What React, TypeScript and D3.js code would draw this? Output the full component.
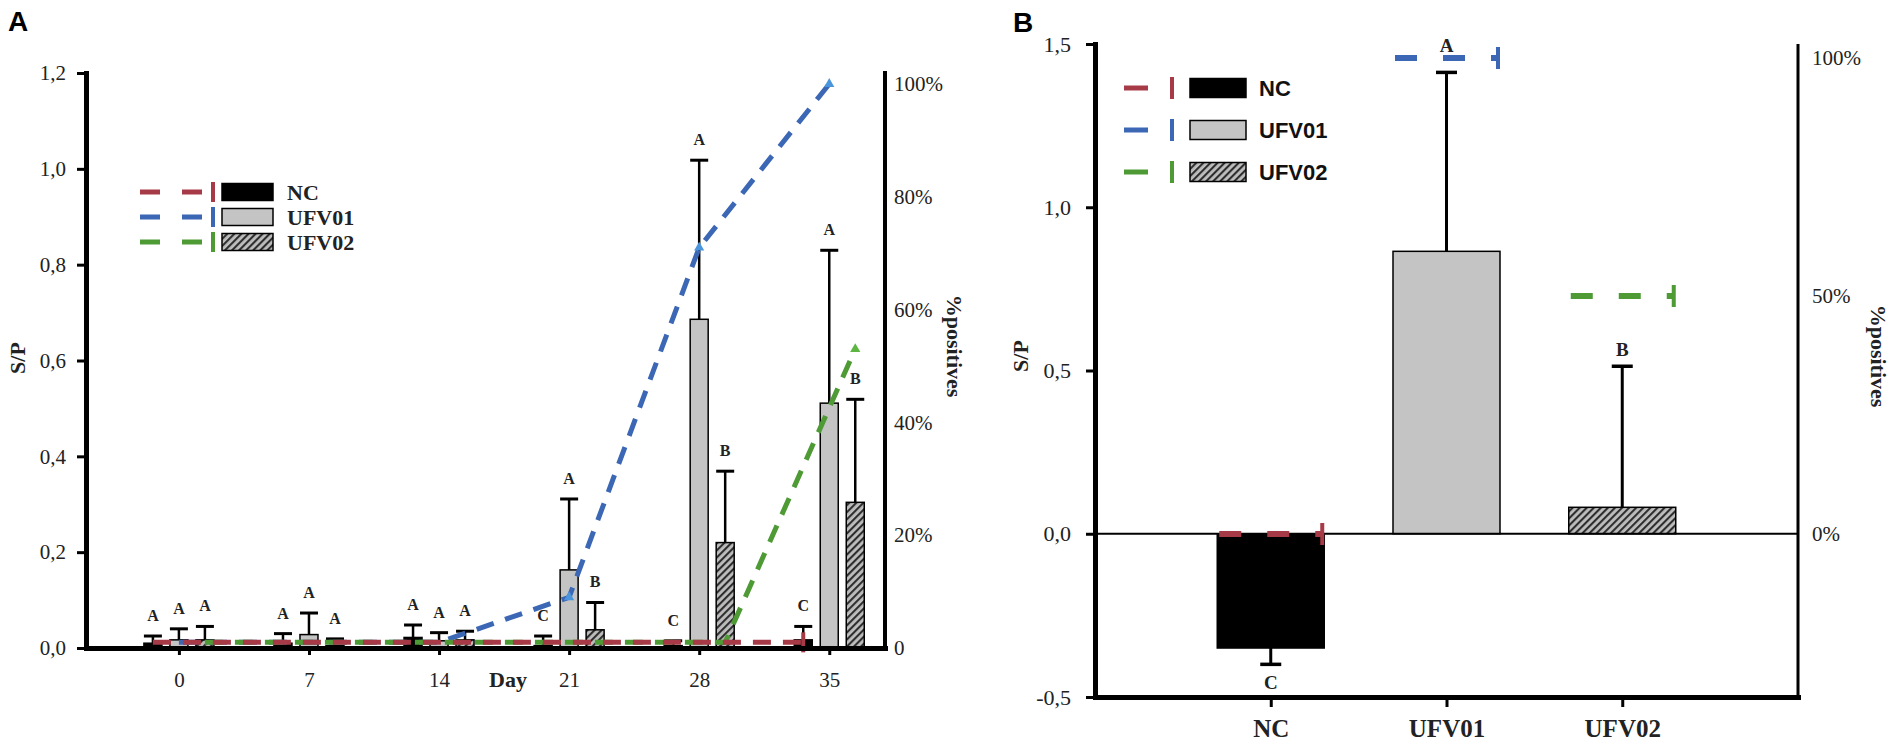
import { useEffect, useRef } from "react";
import * as d3 from "d3";

const days = [0, 7, 14, 21, 28, 35];
const groups = ["NC", "UFV01", "UFV02"];

// panel A: S/P means and SD per day
const ncMean = [0.01, 0.01, 0.022, 0.005, 0.005, 0.017];
const ncSd = [0.015, 0.02, 0.026, 0.02, 0.01, 0.028];
const ufv01Mean = [0.017, 0.028, 0.015, 0.163, 0.686, 0.511];
const ufv01Sd = [0.023, 0.045, 0.017, 0.148, 0.332, 0.319];
const ufv02Mean = [0.017, 0.005, 0.017, 0.038, 0.22, 0.304];
const ufv02Sd = [0.028, 0.014, 0.018, 0.057, 0.149, 0.215];
const ncLetters = ["A", "A", "A", "C", "C", "C"];
const ufv01Letters = ["A", "A", "A", "A", "A", "A"];
const ufv02Letters = ["A", "A", "A", "B", "B", "B"];

// panel A: % positives per day
const ncPos = [1, 1, 1, 1, 1, 1];
const ufv01Pos = [1, 1, 1, 9, 71, 100];
const ufv02Pos = [1, 1, 1, 1, 1, 53];

// panel B: day 35 summary
const bMean = [-0.35, 0.865, 0.081];
const bSd = [0.05, 0.548, 0.432];
const bLetters = ["C", "A", "B"];
const bPos = [0, 100, 50];

const aTicks = [0, 0.2, 0.4, 0.6, 0.8, 1.0, 1.2];
const aPctTicks = [0, 20, 40, 60, 80, 100];
const bTicks = [-0.5, 0, 0.5, 1.0, 1.5];
const bPctTicks = [0, 50, 100];

const SERIF = "'Liberation Serif', 'Times New Roman', serif";
const SANS = "'Liberation Sans', Arial, sans-serif";
const LINE_COLORS = ["#a63a47", "#3b67b5", "#4e9a35"];
const FILLS = ["#000000", "#c4c4c4", "url(#hatch)"];

const fmtComma = (v: number) => v.toFixed(1).replace(".", ",");

export default function App() {
  const svgRef = useRef<SVGSVGElement>(null);

  useEffect(() => {
    if (!svgRef.current) return;
    const svg = d3.select(svgRef.current);
    svg.selectAll("*").remove();

    const defs = svg.append("defs");
    const pat = defs
      .append("pattern")
      .attr("id", "hatch")
      .attr("patternUnits", "userSpaceOnUse")
      .attr("width", 5)
      .attr("height", 5)
      .attr("patternTransform", "rotate(45)");
    pat.append("rect").attr("width", 5).attr("height", 5).attr("fill", "#bdbdbd");
    pat
      .append("line")
      .attr("x1", 1)
      .attr("y1", 0)
      .attr("x2", 1)
      .attr("y2", 5)
      .attr("stroke", "#2e2e2e")
      .attr("stroke-width", 2.2);

    const styleAxis = (g: any, size: number, bold = false) => {
      g.attr("font-family", SERIF).attr("font-size", size);
      g.selectAll("text").attr("fill", "#222").attr("font-weight", bold ? "bold" : "normal");
      g.selectAll(".tick line").attr("stroke", "#000").attr("stroke-width", 3);
      g.select(".domain").attr("stroke", "#000").attr("stroke-linecap", "square");
    };

    // ---------------- Panel A ----------------
    const xA = d3.scaleLinear().domain([-5, 38]).range([86, 885]);
    const yA = d3.scaleLinear().domain([0, 1.2]).range([648, 73]);
    const pA = d3.scaleLinear().domain([0, 100]).range([648, 84]);
    const offA = 26;
    const bwA = 18;
    const gA = svg.append("g");

    const aMeans = [ncMean, ufv01Mean, ufv02Mean];
    const aSds = [ncSd, ufv01Sd, ufv02Sd];
    const aLetters = [ncLetters, ufv01Letters, ufv02Letters];
    const aPos = [ncPos, ufv01Pos, ufv02Pos];

    groups.forEach((_, gi) => {
      days.forEach((d, di) => {
        const cx = xA(d) + (gi - 1) * offA;
        const m = aMeans[gi][di];
        const top = m + aSds[gi][di];
        gA.append("rect")
          .attr("x", cx - bwA / 2)
          .attr("y", yA(m))
          .attr("width", bwA)
          .attr("height", yA(0) - yA(m))
          .attr("fill", FILLS[gi])
          .attr("stroke", "#000")
          .attr("stroke-width", 1.5);
        gA.append("line")
          .attr("x1", cx)
          .attr("x2", cx)
          .attr("y1", yA(m))
          .attr("y2", yA(top))
          .attr("stroke", "#000")
          .attr("stroke-width", 2.5);
        gA.append("line")
          .attr("x1", cx - bwA / 2)
          .attr("x2", cx + bwA / 2)
          .attr("y1", yA(top))
          .attr("y2", yA(top))
          .attr("stroke", "#000")
          .attr("stroke-width", 3);
        gA.append("text")
          .attr("x", cx)
          .attr("y", yA(top) - 15)
          .attr("text-anchor", "middle")
          .attr("font-family", SERIF)
          .attr("font-weight", "bold")
          .attr("font-size", 16)
          .attr("fill", "#222")
          .text(aLetters[gi][di]);
      });
    });

    // % positives lines (blue under, then green, then red)
    [1, 2, 0].forEach((gi) => {
      const pts = days.map((d, di) => [xA(d) + (gi - 1) * offA, pA(aPos[gi][di])] as [number, number]);
      gA.append("path")
        .attr("d", d3.line()(pts))
        .attr("fill", "none")
        .attr("stroke", LINE_COLORS[gi])
        .attr("stroke-width", 5)
        .attr("stroke-dasharray", "18,12");
      pts.forEach((p, di) => {
        if (aPos[gi][di] > 5) {
          gA.append("path")
            .attr("d", d3.symbol(d3.symbolTriangle, 45)())
            .attr("transform", `translate(${p[0]},${p[1]})`)
            .attr("fill", gi === 1 ? "#4a95dc" : "#5db542");
        }
      });
      const last = pts[pts.length - 1];
      if (gi === 0) {
        gA.append("line")
          .attr("x1", last[0])
          .attr("x2", last[0])
          .attr("y1", last[1] - 10)
          .attr("y2", last[1] + 10)
          .attr("stroke", LINE_COLORS[gi])
          .attr("stroke-width", 4);
      }
    });

    const axLA = gA.append("g")
      .attr("transform", "translate(86,0)")
      .call(d3.axisLeft(yA).tickValues(aTicks).tickFormat((v: any) => fmtComma(v)).tickSize(9).tickSizeOuter(0).tickPadding(11));
    styleAxis(axLA, 21);
    axLA.select(".domain").attr("stroke-width", 5);

    const axBA = gA.append("g")
      .attr("transform", "translate(0,648)")
      .call(d3.axisBottom(xA).tickValues(days).tickFormat((v: any) => String(v)).tickSize(7).tickSizeOuter(0).tickPadding(17));
    styleAxis(axBA, 21);
    axBA.select(".domain").attr("stroke-width", 5);

    const axRA = gA.append("g")
      .attr("transform", "translate(885,0)")
      .call(d3.axisRight(pA).tickValues(aPctTicks).tickFormat((v: any) => (v === 0 ? "0" : `${v}%`)).tickSize(0).tickSizeOuter(0).tickPadding(9));
    styleAxis(axRA, 21);
    axRA.select(".domain").remove();
    gA.append("line")
      .attr("x1", 885).attr("x2", 885).attr("y1", 71).attr("y2", 648)
      .attr("stroke", "#000").attr("stroke-width", 4);

    gA.append("text")
      .attr("transform", "translate(25,358) rotate(-90)")
      .attr("text-anchor", "middle")
      .attr("font-family", SERIF)
      .attr("font-weight", "bold")
      .attr("font-size", 22)
      .attr("fill", "#222")
      .text("S/P");
    gA.append("text")
      .attr("transform", "translate(947,346) rotate(90)")
      .attr("text-anchor", "middle")
      .attr("font-family", SERIF)
      .attr("font-weight", "bold")
      .attr("font-size", 22)
      .attr("fill", "#222")
      .text("%positives");
    gA.append("text")
      .attr("x", 508)
      .attr("y", 687)
      .attr("text-anchor", "middle")
      .attr("font-family", SERIF)
      .attr("font-weight", "bold")
      .attr("font-size", 22)
      .attr("fill", "#222")
      .text("Day");
    gA.append("text")
      .attr("x", 8)
      .attr("y", 31)
      .attr("font-family", SANS)
      .attr("font-weight", "bold")
      .attr("font-size", 28)
      .attr("fill", "#000")
      .text("A");

    // legend A
    const legAy = [192, 217, 242];
    groups.forEach((name, gi) => {
      const y = legAy[gi];
      gA.append("line")
        .attr("x1", 140).attr("x2", 202).attr("y1", y).attr("y2", y)
        .attr("stroke", LINE_COLORS[gi]).attr("stroke-width", 5)
        .attr("stroke-dasharray", "20,22");
      gA.append("line")
        .attr("x1", 213).attr("x2", 213).attr("y1", y - 10).attr("y2", y + 10)
        .attr("stroke", LINE_COLORS[gi]).attr("stroke-width", 4);
      gA.append("rect")
        .attr("x", 222).attr("y", y - 8.5).attr("width", 51).attr("height", 17)
        .attr("fill", FILLS[gi]).attr("stroke", "#000").attr("stroke-width", 1.5);
      gA.append("text")
        .attr("x", 287).attr("y", y + 8)
        .attr("font-family", SERIF).attr("font-weight", "bold").attr("font-size", 22)
        .attr("fill", "#222")
        .text(name);
    });

    // ---------------- Panel B ----------------
    const xB = d3.scalePoint<string>().domain(groups).range([1095, 1798]).padding(1);
    const yB = d3.scaleLinear().domain([-0.5, 1.5]).range([697, 44]);
    const pB = d3.scaleLinear().domain([0, 100]).range([534, 58]);
    const bwB = 107;
    const gB = svg.append("g");

    groups.forEach((name, gi) => {
      const cx = xB(name)!;
      const m = bMean[gi];
      const end = m < 0 ? m - bSd[gi] : m + bSd[gi];
      gB.append("rect")
        .attr("x", cx - bwB / 2)
        .attr("y", yB(Math.max(0, m)))
        .attr("width", bwB)
        .attr("height", Math.abs(yB(m) - yB(0)))
        .attr("fill", FILLS[gi])
        .attr("stroke", "#000")
        .attr("stroke-width", 1.5);
      gB.append("line")
        .attr("x1", cx).attr("x2", cx).attr("y1", yB(m)).attr("y2", yB(end))
        .attr("stroke", "#000").attr("stroke-width", 3);
      gB.append("line")
        .attr("x1", cx - 10.5).attr("x2", cx + 10.5).attr("y1", yB(end)).attr("y2", yB(end))
        .attr("stroke", "#000").attr("stroke-width", 3.5);
      // letter above the error bar, lifted over the % mark when they would touch
      let base = m < 0 ? yB(end) + 25 : yB(end) - 10;
      const pctY = pB(bPos[gi]);
      if (m >= 0 && Math.abs(base - pctY) < 14) base = pctY - 6;
      gB.append("text")
        .attr("x", cx)
        .attr("y", base)
        .attr("text-anchor", "middle")
        .attr("font-family", SERIF)
        .attr("font-weight", "bold")
        .attr("font-size", 19)
        .attr("fill", "#222")
        .text(bLetters[gi]);
    });

    gB.append("line")
      .attr("x1", 1095).attr("x2", 1798).attr("y1", yB(0)).attr("y2", yB(0))
      .attr("stroke", "#000").attr("stroke-width", 2);

    groups.forEach((name, gi) => {
      const cx = xB(name)!;
      const y = pB(bPos[gi]);
      gB.append("line")
        .attr("x1", cx - bwB / 2 + 2).attr("x2", cx + bwB / 2 - 2).attr("y1", y).attr("y2", y)
        .attr("stroke", LINE_COLORS[gi]).attr("stroke-width", 6)
        .attr("stroke-dasharray", "22,26");
      gB.append("line")
        .attr("x1", cx + bwB / 2 - 2).attr("x2", cx + bwB / 2 - 2).attr("y1", y - 11).attr("y2", y + 11)
        .attr("stroke", LINE_COLORS[gi]).attr("stroke-width", 4);
    });

    const axLB = gB.append("g")
      .attr("transform", "translate(1095,0)")
      .call(d3.axisLeft(yB).tickValues(bTicks).tickFormat((v: any) => fmtComma(v)).tickSize(9).tickSizeOuter(0).tickPadding(15));
    styleAxis(axLB, 22);
    axLB.select(".domain").attr("stroke-width", 5);

    const axBB = gB.append("g")
      .attr("transform", "translate(0,697)")
      .call(d3.axisBottom(xB).tickSize(10).tickSizeOuter(0).tickPadding(12));
    styleAxis(axBB, 25, true);
    axBB.select(".domain").attr("stroke-width", 5);

    const axRB = gB.append("g")
      .attr("transform", "translate(1798,0)")
      .call(d3.axisRight(pB).tickValues(bPctTicks).tickFormat((v: any) => `${v}%`).tickSize(0).tickSizeOuter(0).tickPadding(14));
    styleAxis(axRB, 21);
    axRB.select(".domain").remove();
    gB.append("line")
      .attr("x1", 1798).attr("x2", 1798).attr("y1", 44).attr("y2", 697)
      .attr("stroke", "#000").attr("stroke-width", 3);

    gB.append("text")
      .attr("transform", "translate(1028,356) rotate(-90)")
      .attr("text-anchor", "middle")
      .attr("font-family", SERIF)
      .attr("font-weight", "bold")
      .attr("font-size", 22)
      .attr("fill", "#222")
      .text("S/P");
    gB.append("text")
      .attr("transform", "translate(1871,356) rotate(90)")
      .attr("text-anchor", "middle")
      .attr("font-family", SERIF)
      .attr("font-weight", "bold")
      .attr("font-size", 22)
      .attr("fill", "#222")
      .text("%positives");
    gB.append("text")
      .attr("x", 1013)
      .attr("y", 32)
      .attr("font-family", SANS)
      .attr("font-weight", "bold")
      .attr("font-size", 28)
      .attr("fill", "#000")
      .text("B");

    // legend B
    const legBy = [88, 130, 172];
    groups.forEach((name, gi) => {
      const y = legBy[gi];
      gB.append("line")
        .attr("x1", 1124).attr("x2", 1148).attr("y1", y).attr("y2", y)
        .attr("stroke", LINE_COLORS[gi]).attr("stroke-width", 5);
      gB.append("line")
        .attr("x1", 1172).attr("x2", 1172).attr("y1", y - 11).attr("y2", y + 11)
        .attr("stroke", LINE_COLORS[gi]).attr("stroke-width", 4);
      gB.append("rect")
        .attr("x", 1190).attr("y", y - 9.5).attr("width", 56).attr("height", 19)
        .attr("fill", FILLS[gi]).attr("stroke", "#000").attr("stroke-width", 1.5);
      gB.append("text")
        .attr("x", 1259).attr("y", y + 8)
        .attr("font-family", SANS).attr("font-weight", "bold").attr("font-size", 22)
        .attr("fill", "#111")
        .text(name);
    });
  }, []);

  return (
    <svg
      ref={svgRef}
      width={1902}
      height={750}
      style={{ position: "absolute", left: 0, top: 0, background: "#fff" }}
    />
  );
}
